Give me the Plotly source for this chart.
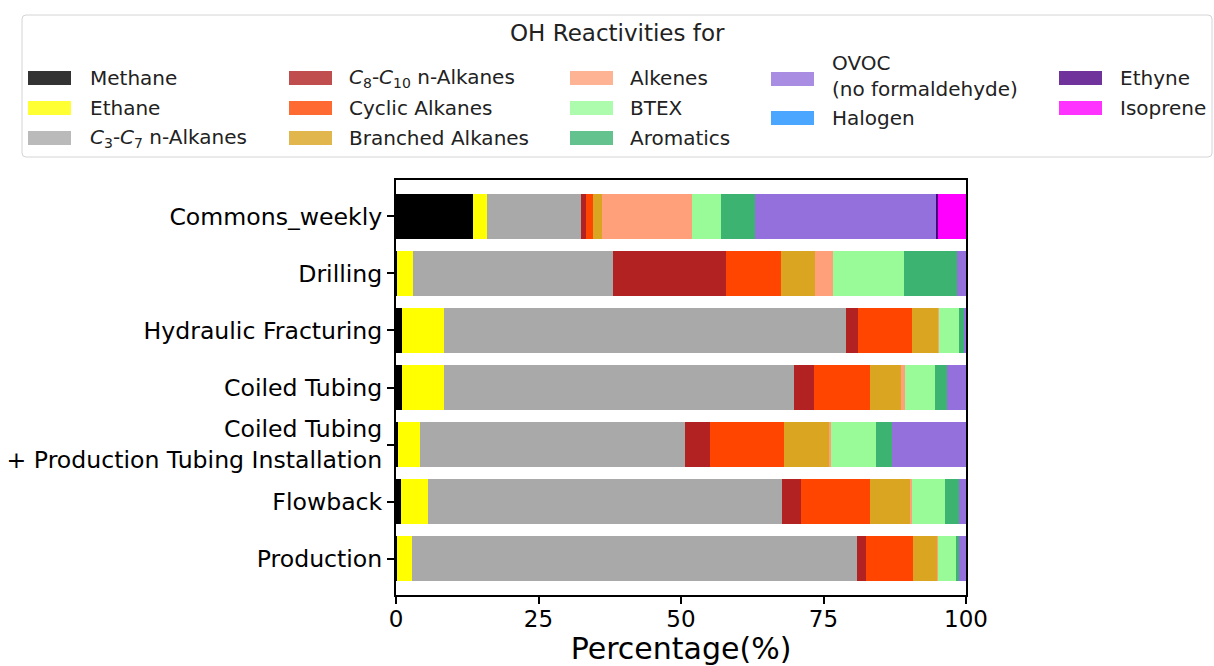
import plotly.graph_objects as go

# Emission stages (top to bottom)
stages = [
    "Commons_weekly",
    "Drilling",
    "Hydraulic Fracturing",
    "Coiled Tubing",
    "Coiled Tubing<br>+ Production Tubing Installation",
    "Flowback",
    "Production",
]

# Share of total OH reactivity (%) for each VOC class, per stage
methane    = [13.5, 0.2, 1.0, 1.1, 0.4, 0.8, 0.2]
ethane     = [2.5, 2.7, 7.5, 7.3, 3.8, 4.9, 2.6]
c3_c7      = [16.4, 35.1, 70.5, 61.5, 46.5, 62.0, 78.1]
c8_c10     = [1.0, 19.9, 2.1, 3.5, 4.4, 3.3, 1.6]
cyclic     = [1.2, 9.7, 9.4, 9.8, 13.0, 12.2, 8.2]
branched   = [1.5, 5.9, 4.6, 5.4, 8.0, 7.1, 4.3]
alkenes    = [15.9, 3.1, 0.1, 0.7, 0.3, 0.2, 0.1]
btex       = [5.1, 12.6, 3.5, 5.3, 7.8, 5.8, 3.2]
aromatics  = [5.8, 9.2, 1.0, 2.0, 2.8, 2.4, 0.5]
ovoc       = [31.8, 1.6, 0.3, 3.4, 13.0, 1.3, 1.2]
halogen    = [0.0, 0.0, 0.0, 0.0, 0.0, 0.0, 0.0]
ethyne     = [0.4, 0.0, 0.0, 0.0, 0.0, 0.0, 0.0]
isoprene   = [4.9, 0.0, 0.0, 0.0, 0.0, 0.0, 0.0]

groups = [
    ("Methane", methane, (0, 0, 0)),
    ("Ethane", ethane, (255, 255, 0)),
    ("<i>C</i><sub>3</sub>-<i>C</i><sub>7</sub> n-Alkanes", c3_c7, (169, 169, 169)),
    ("<i>C</i><sub>8</sub>-<i>C</i><sub>10</sub> n-Alkanes", c8_c10, (178, 34, 34)),
    ("Cyclic Alkanes", cyclic, (255, 69, 0)),
    ("Branched Alkanes", branched, (218, 165, 32)),
    ("Alkenes", alkenes, (255, 160, 122)),
    ("BTEX", btex, (152, 251, 152)),
    ("Aromatics", aromatics, (60, 179, 113)),
    ("OVOC<br>(no formaldehyde)", ovoc, (147, 112, 219)),
    ("Halogen", halogen, (30, 144, 255)),
    ("Ethyne", ethyne, (75, 0, 130)),
    ("Isoprene", isoprene, (255, 0, 255)),
]

FONT = "DejaVu Sans"
W, H = 1214, 666
X0, X1, Y0, Y1 = 396, 966, 180, 595  # plot area in pixels


def px(x):
    return (x - X0) / (X1 - X0)


def py(y):
    return (Y1 - y) / (Y1 - Y0)


fig = go.Figure()
for name, vals, rgb in groups:
    fig.add_trace(go.Bar(
        y=stages, x=vals, orientation="h", name=name,
        marker=dict(color="rgb(%d,%d,%d)" % rgb, line=dict(width=0)),
        width=0.8, showlegend=False,
    ))

# Legend: 5 columns, filled column by column
col_patch_x = [28, 289, 570, 771, 1059]
col_text_x = [88, 347, 628, 830, 1118]
layout_slots = [
    (0, 78), (0, 108), (0, 138),
    (1, 78), (1, 108), (1, 138),
    (2, 78), (2, 108), (2, 138),
    (3, 78), (3, 118),
    (4, 78), (4, 108),
]
shapes = []
annotations = []

# legend frame with rounded corners
r = 4
lx0, lx1, ly0, ly1 = 22, 1212, 15, 157
path = (
    f"M {px(lx0 + r)},{py(ly0)} L {px(lx1 - r)},{py(ly0)} "
    f"Q {px(lx1)},{py(ly0)} {px(lx1)},{py(ly0 + r)} "
    f"L {px(lx1)},{py(ly1 - r)} Q {px(lx1)},{py(ly1)} {px(lx1 - r)},{py(ly1)} "
    f"L {px(lx0 + r)},{py(ly1)} Q {px(lx0)},{py(ly1)} {px(lx0)},{py(ly1 - r)} "
    f"L {px(lx0)},{py(ly0 + r)} Q {px(lx0)},{py(ly0)} {px(lx0 + r)},{py(ly0)} Z"
)
shapes.append(dict(type="path", xref="paper", yref="paper", path=path,
                   line=dict(color="#d4d4d4", width=1), fillcolor="white", layer="below"))

annotations.append(dict(text="OH Reactivities for", x=px(617), y=py(33), xref="paper", yref="paper",
                        xanchor="center", yanchor="middle", showarrow=False,
                        font=dict(family=FONT, size=23, color="#222")))

for (name, vals, rgb), (col, yc) in zip(groups, layout_slots):
    x0 = col_patch_x[col]
    patch_y = yc + 1 if "OVOC" in name else yc
    shapes.append(dict(type="rect", xref="paper", yref="paper",
                       x0=px(x0), x1=px(x0 + 43), y0=py(patch_y - 7), y1=py(patch_y + 7),
                       fillcolor="rgba(%d,%d,%d,0.8)" % rgb, line=dict(width=0)))
    annotations.append(dict(text=name, x=px(col_text_x[col]), y=py(yc - 2 if "OVOC" in name else yc),
                            xref="paper", yref="paper", xanchor="left", yanchor="middle",
                            align="left", showarrow=False,
                            font=dict(family=FONT, size=20, color="#222")))

fig.update_layout(
    barmode="stack",
    width=W, height=H,
    margin=dict(l=X0, r=W - X1, t=Y0, b=H - Y1, autoexpand=False),
    paper_bgcolor="white", plot_bgcolor="white",
    font=dict(family=FONT, color="black"),
    shapes=shapes,
    annotations=annotations,
    bargap=0.2,
)
fig.update_xaxes(
    range=[0, 100], tickvals=[0, 25, 50, 75, 100],
    showgrid=False, zeroline=False,
    showline=True, linecolor="black", linewidth=2, mirror=True,
    ticks="outside", ticklen=7, tickwidth=2, tickcolor="black",
    ticklabelstandoff=-5,
    tickfont=dict(family=FONT, size=23, color="black"),
    title=dict(text="Percentage(%)", font=dict(family=FONT, size=30, color="black"), standoff=0),
)
fig.update_yaxes(
    range=[6.64, -0.64],
    showgrid=False, zeroline=False,
    showline=True, linecolor="black", linewidth=2, mirror=True,
    ticks="outside", ticklen=7, tickwidth=2, tickcolor="black",
    tickfont=dict(family=FONT, size=23.6, color="black"),
)

fig.write_html("out.html")
